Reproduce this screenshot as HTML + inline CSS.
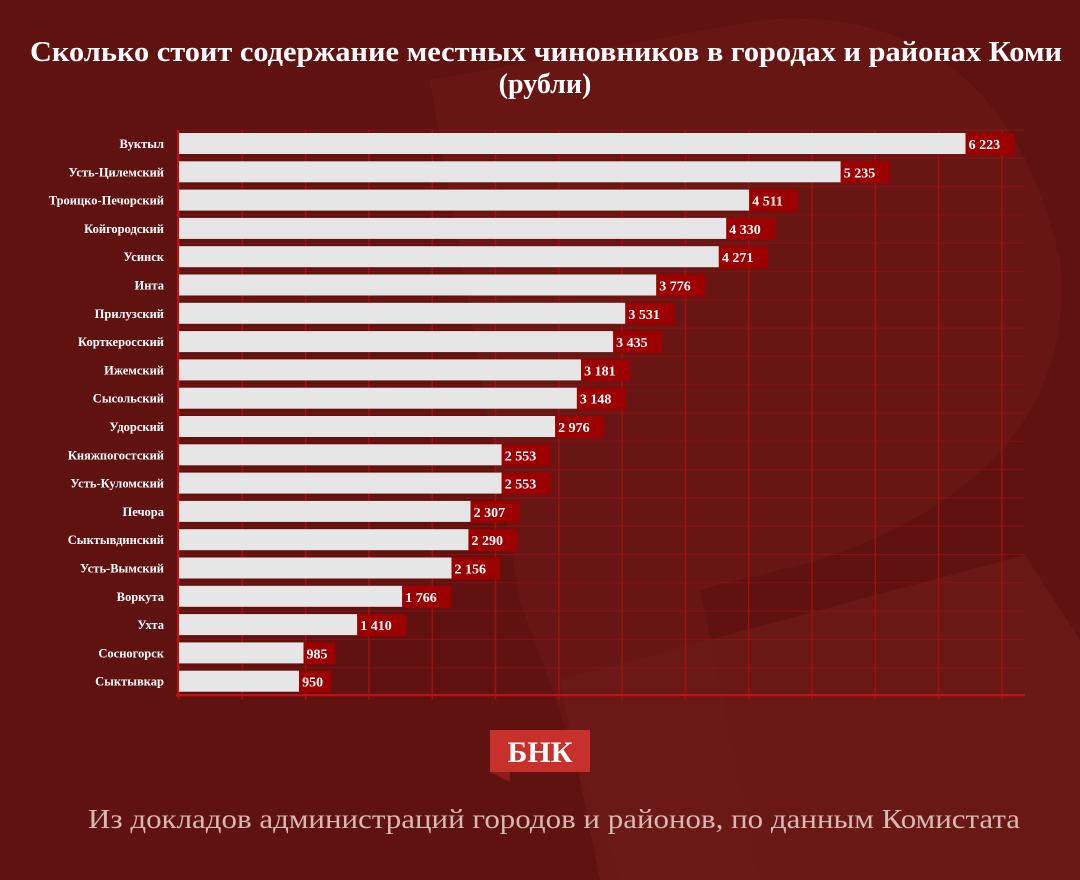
<!DOCTYPE html>
<html><head><meta charset="utf-8"><style>
body{margin:0;width:1080px;height:880px;overflow:hidden;background:#601210;font-family:"Liberation Serif","Noto Serif CJK SC",serif;}
</style></head><body>
<svg width="1080" height="880" xmlns="http://www.w3.org/2000/svg" style="position:absolute;left:0;top:0">
<rect width="1080" height="880" fill="#5f1210"/>
<path d="M430 80 L760 20 Q1000 0 1060 260 Q1080 470 820 560 L700 590 L760 880 L620 880 L520 600 Z" fill="#6a1815" opacity="0.8"/>
<path d="M560 680 L1025 555 L1080 640 L1080 880 L600 880 Z" fill="#6b1a16" opacity="0.8"/>
<text x="30" y="61" textLength="1032" lengthAdjust="spacingAndGlyphs" fill="#fff" font-weight="bold" font-size="28">Сколько стоит содержание местных чиновников в городах и районах Коми</text>
<text x="545" y="93" text-anchor="middle" fill="#fff" font-weight="bold" font-size="28">(рубли)</text>
<g id="grid" stroke="#a01010" stroke-width="1.5"></g>
<g id="bars"></g>
<line x1="176" y1="695" x2="1025" y2="695" stroke="#c01010" stroke-width="2"/>
<line x1="178" y1="130" x2="178" y2="697" stroke="#c01010" stroke-width="2"/>
<rect x="490" y="730" width="100" height="42" fill="#c8302c"/>
<path d="M490 772 L510 772 L510 782 Z" fill="#8a1c1a"/>
<text x="540" y="762" text-anchor="middle" fill="#fff" font-weight="bold" font-size="30">БНК</text>
<text x="88" y="828" textLength="932" lengthAdjust="spacingAndGlyphs" fill="#d8b8b0" font-size="27">Из докладов администраций городов и районов, по данным Комистата</text>
</svg>
<script>
const d=[["Вуктыл",6223],["Усть-Цилемский",5235],["Троицко-Печорский",4511],["Койгородский",4330],["Усинск",4271],["Инта",3776],["Прилузский",3531],["Корткеросский",3435],["Ижемский",3181],["Сысольский",3148],["Удорский",2976],["Княжпогостский",2553],["Усть-Куломский",2553],["Печора",2307],["Сыктывдинский",2290],["Усть-Вымский",2156],["Воркута",1766],["Ухта",1410],["Сосногорск",985],["Сыктывкар",950]];
const ns="http://www.w3.org/2000/svg";
function el(t,a,p,txt){const e=document.createElementNS(ns,t);for(const k in a)e.setAttribute(k,a[k]);if(txt)e.textContent=txt;p.appendChild(e);return e;}
const g=document.getElementById("grid"),b=document.getElementById("bars");
for(let i=0;i<14;i++){const x=179+i*63.3;el("line",{x1:x,y1:130,x2:x,y2:700},g);}
for(let i=0;i<=20;i++){const y=130+i*28.3;el("line",{x1:176,y1:y,x2:1025,y2:y,"stroke-width":1,opacity:0.6},g);}
d.forEach((r,i)=>{const y=133+i*28.3;const w=r[1]*0.1264;
el("rect",{x:179,y:y,width:w,height:21,fill:"#e6e6e6"},b);
const s=r[1].toString().replace(/\B(?=(\d{3})+(?!\d))/g,"\u00a0");
const lw=s.length*8.6+6;
el("rect",{x:179+w,y:y,width:lw,height:22,fill:"#9c0000"},b);
el("text",{x:182+w,y:y+16,fill:"#fff","font-weight":"bold","font-size":"14"},b,s);
el("text",{x:164,y:y+15,fill:"#fff","font-weight":"bold","font-size":"12.5","text-anchor":"end"},b,r[0]);});
</script>
</body></html>
